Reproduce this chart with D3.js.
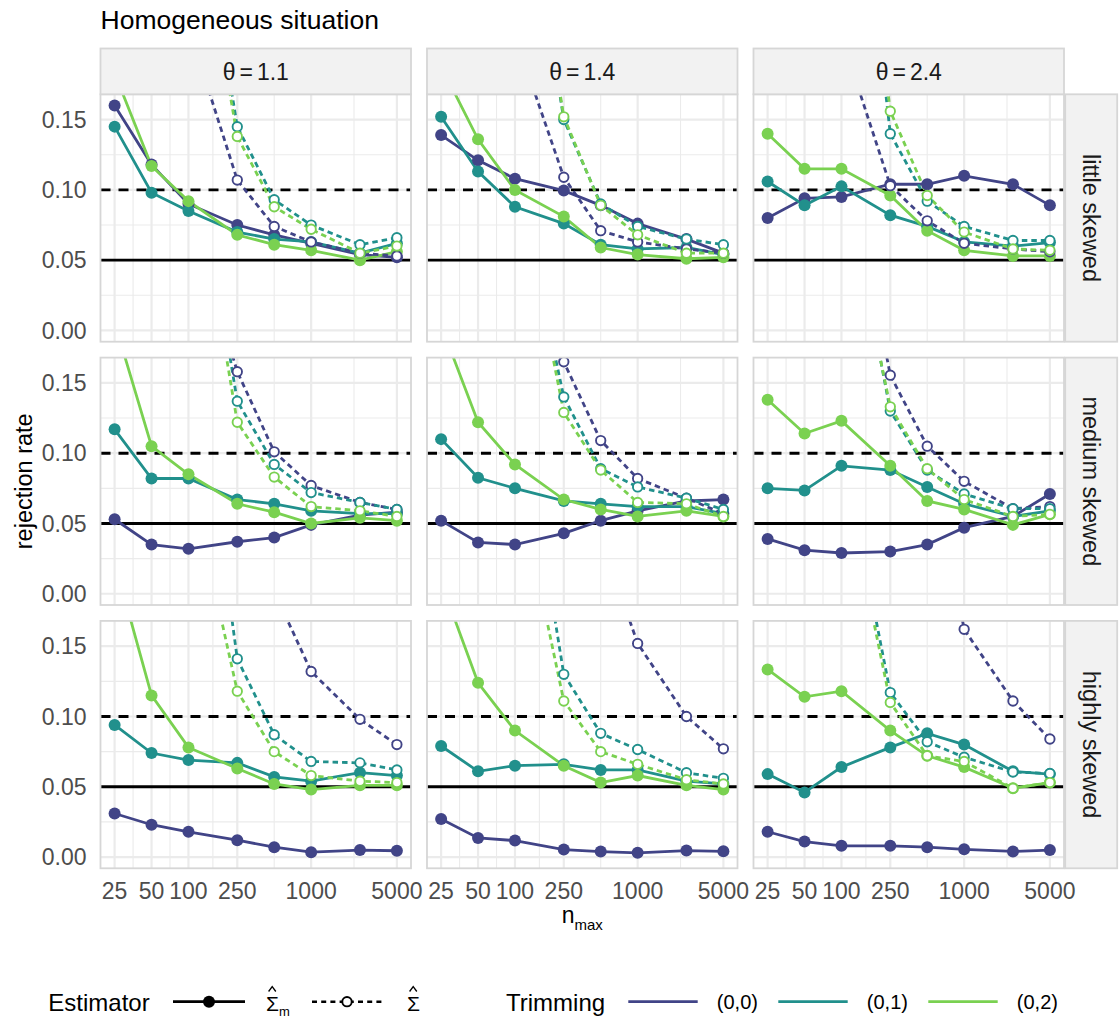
<!DOCTYPE html>
<html>
<head>
<meta charset="utf-8">
<script src="https://cdn.jsdelivr.net/npm/d3@7"></script>
<style>
  body { margin: 0; background: #fff; }
  svg { display: block; }
  text { font-family: "Liberation Sans", Arial, Helvetica, sans-serif; }
</style>
</head>
<body>
<svg id="chart" width="1119" height="1021"></svg>
<script>
// ---- data ---------------------------------------------------------------
const sampleSizes   = [25, 50, 100, 250, 500, 1000, 2500, 5000];
const xTickValues   = [25, 50, 100, 250, 1000, 5000];
const yTickValues   = [0, 0.05, 0.10, 0.15];
const thetaLabels   = ["1.1", "1.4", "2.4"];
const skewLabels    = ["little skewed", "medium skewed", "highly skewed"];
const trimmingLabels = ["(0,0)", "(0,1)", "(0,2)"];
const trimmingColors = ["#414487", "#21908C", "#7AD151"];
const nominalLevel  = 0.05;
const upperLevel    = 0.10;

// rejection rates, one row per trimming (0,0), (0,1), (0,2)
// estimator Sigma-hat_m (solid) and Sigma-hat (dashed)
const sigmaM_little_11 = [
  [0.160, 0.118, 0.090, 0.075, 0.068, 0.062, 0.054, 0.052],
  [0.145, 0.098, 0.085, 0.070, 0.065, 0.063, 0.055, 0.062],
  [0.183, 0.117, 0.092, 0.068, 0.061, 0.057, 0.050, 0.056]];
const sigma_little_11 = [
  [0.46, 0.31, 0.216, 0.107, 0.074, 0.063, 0.055, 0.053],
  [0.80, 0.55, 0.360, 0.145, 0.093, 0.075, 0.061, 0.066],
  [0.78, 0.52, 0.340, 0.138, 0.088, 0.072, 0.055, 0.060]];
const sigmaM_little_14 = [
  [0.139, 0.121, 0.108, 0.0995, 0.089, 0.076, 0.065, 0.055],
  [0.152, 0.113, 0.088, 0.076, 0.061, 0.058, 0.059, 0.054],
  [0.188, 0.136, 0.100, 0.081, 0.059, 0.054, 0.051, 0.052]];
const sigma_little_14 = [
  [0.45, 0.30, 0.210, 0.109, 0.071, 0.063, 0.058, 0.055],
  [0.85, 0.58, 0.370, 0.150, 0.090, 0.074, 0.065, 0.061],
  [0.85, 0.58, 0.370, 0.152, 0.089, 0.068, 0.055, 0.055]];
const sigmaM_little_24 = [
  [0.080, 0.094, 0.095, 0.104, 0.104, 0.110, 0.104, 0.089],
  [0.106, 0.089, 0.1025, 0.082, 0.074, 0.063, 0.060, 0.0625],
  [0.140, 0.115, 0.115, 0.096, 0.071, 0.057, 0.053, 0.053]];
const sigma_little_24 = [
  [0.45, 0.31, 0.209, 0.103, 0.078, 0.062, 0.058, 0.056],
  [1.00, 0.70, 0.448, 0.140, 0.092, 0.074, 0.064, 0.064],
  [1.00, 0.70, 0.440, 0.156, 0.096, 0.070, 0.058, 0.057]];

const sigmaM_medium_11 = [
  [0.053, 0.035, 0.032, 0.037, 0.040, 0.049, 0.056, 0.058],
  [0.117, 0.082, 0.082, 0.067, 0.064, 0.059, 0.057, 0.057],
  [0.193, 0.105, 0.085, 0.064, 0.058, 0.050, 0.054, 0.052]];
const sigma_medium_11 = [
  [0.60, 0.42, 0.273, 0.158, 0.101, 0.077, 0.065, 0.060],
  [0.75, 0.52, 0.347, 0.137, 0.092, 0.072, 0.065, 0.060],
  [0.70, 0.48, 0.330, 0.122, 0.083, 0.062, 0.059, 0.055]];
const sigmaM_medium_14 = [
  [0.052, 0.0365, 0.035, 0.043, 0.052, 0.059, 0.066, 0.067],
  [0.110, 0.0825, 0.075, 0.066, 0.064, 0.062, 0.062, 0.057],
  [0.191, 0.122, 0.092, 0.067, 0.060, 0.055, 0.059, 0.055]];
const sigma_medium_14 = [
  [0.70, 0.48, 0.300, 0.165, 0.109, 0.082, 0.068, 0.057],
  [0.70, 0.46, 0.302, 0.140, 0.089, 0.076, 0.068, 0.060],
  [0.70, 0.46, 0.305, 0.129, 0.088, 0.065, 0.064, 0.055]];
const sigmaM_medium_24 = [
  [0.039, 0.031, 0.029, 0.030, 0.035, 0.047, 0.055, 0.071],
  [0.075, 0.0735, 0.091, 0.088, 0.076, 0.064, 0.055, 0.059],
  [0.138, 0.114, 0.123, 0.091, 0.066, 0.060, 0.049, 0.0565]];
const sigma_medium_24 = [
  [0.75, 0.52, 0.334, 0.1555, 0.105, 0.080, 0.0605, 0.062],
  [0.70, 0.48, 0.312, 0.130, 0.088, 0.071, 0.0605, 0.0605],
  [0.70, 0.46, 0.300, 0.133, 0.089, 0.067, 0.055, 0.0565]];

const sigmaM_highly_11 = [
  [0.031, 0.023, 0.018, 0.012, 0.007, 0.0035, 0.005, 0.0045],
  [0.094, 0.074, 0.069, 0.067, 0.057, 0.054, 0.060, 0.058],
  [0.210, 0.115, 0.078, 0.063, 0.052, 0.048, 0.051, 0.051]];
const sigma_highly_11 = [
  [1.00, 0.75, 0.45, 0.30, 0.189, 0.132, 0.098, 0.080],
  [0.90, 0.62, 0.398, 0.141, 0.087, 0.068, 0.067, 0.062],
  [0.70, 0.45, 0.274, 0.118, 0.075, 0.058, 0.054, 0.053]];
const sigmaM_highly_14 = [
  [0.027, 0.0136, 0.0117, 0.0053, 0.0039, 0.003, 0.0046, 0.0041],
  [0.079, 0.061, 0.065, 0.066, 0.062, 0.062, 0.054, 0.052],
  [0.1955, 0.124, 0.090, 0.065, 0.053, 0.058, 0.051, 0.048]];
const sigma_highly_14 = [
  [1.00, 0.75, 0.50, 0.34, 0.227, 0.152, 0.100, 0.077],
  [0.80, 0.55, 0.346, 0.130, 0.088, 0.0765, 0.060, 0.056],
  [0.70, 0.45, 0.276, 0.111, 0.075, 0.066, 0.055, 0.052]];
const sigmaM_highly_24 = [
  [0.018, 0.011, 0.008, 0.008, 0.007, 0.0055, 0.004, 0.005],
  [0.059, 0.046, 0.064, 0.078, 0.088, 0.080, 0.061, 0.059],
  [0.1335, 0.114, 0.118, 0.090, 0.072, 0.064, 0.049, 0.053]];
const sigma_highly_24 = [
  [1.00, 0.80, 0.55, 0.40, 0.30, 0.162, 0.111, 0.084],
  [0.75, 0.50, 0.294, 0.117, 0.082, 0.071, 0.0605, 0.0595],
  [0.70, 0.48, 0.279, 0.110, 0.072, 0.068, 0.049, 0.053]];

// facet grid: rows = skewness, columns = theta
const panelData = [
  [[sigmaM_little_11, sigma_little_11], [sigmaM_little_14, sigma_little_14], [sigmaM_little_24, sigma_little_24]],
  [[sigmaM_medium_11, sigma_medium_11], [sigmaM_medium_14, sigma_medium_14], [sigmaM_medium_24, sigma_medium_24]],
  [[sigmaM_highly_11, sigma_highly_11], [sigmaM_highly_14, sigma_highly_14], [sigmaM_highly_24, sigma_highly_24]]
];

// ---- layout -------------------------------------------------------------
const svg = d3.select("#chart");
const gridLeft = 100.5, gridTop = 94.3;
const panelW = 310.5, panelH = 247.4;
const gapX = 16, gapY = 15.9;
const stripH = 45.8, stripW = 52;
const gridCol = "#EBEBEB", borderCol = "#D6D6D6", stripFill = "#F2F2F2";
const axisTextCol = "#4D4D4D";
const lineW = 2.8, dotR = 6, ringR = 4.7, ringW = 1.9;

const colX = c => gridLeft + c * (panelW + gapX);
const rowY = r => gridTop + r * (panelH + gapY);

const logSpan = Math.log10(d3.max(sampleSizes) / d3.min(sampleSizes));
const pad = Math.pow(10, 0.05 * logSpan);
const x = d3.scaleLog()
  .domain([d3.min(sampleSizes) / pad, d3.max(sampleSizes) * pad])
  .range([0, panelW]);
const y = d3.scaleLinear().domain([-0.008, 0.168]).range([panelH, 0]);

const xMinor = d3.pairs(xTickValues).map(([a, b]) => Math.sqrt(a * b));
const yMinor = d3.pairs(yTickValues).map(([a, b]) => (a + b) / 2);

const line = d3.line().x(d => x(d.n)).y(d => y(d.v));

// title
svg.append("text")
  .attr("x", gridLeft).attr("y", 28.5)
  .attr("font-size", 26.5).attr("fill", "#000")
  .text("Homogeneous situation");

const defs = svg.append("defs");
defs.append("clipPath").attr("id", "panel-clip")
  .append("rect").attr("width", panelW).attr("height", panelH);

panelData.forEach((rowPanels, r) => {
  rowPanels.forEach(([solidSeries, dashedSeries], c) => {
    const g = svg.append("g").attr("transform", `translate(${colX(c)},${rowY(r)})`);

    g.append("rect").attr("width", panelW).attr("height", panelH).attr("fill", "#fff");

    // grid
    g.selectAll(".ymin").data(yMinor).join("line")
      .attr("x1", 0).attr("x2", panelW).attr("y1", d => y(d)).attr("y2", d => y(d))
      .attr("stroke", gridCol).attr("stroke-width", 1.1);
    g.selectAll(".xmin").data(xMinor).join("line")
      .attr("y1", 0).attr("y2", panelH).attr("x1", d => x(d)).attr("x2", d => x(d))
      .attr("stroke", gridCol).attr("stroke-width", 1.1);
    g.selectAll(".ymaj").data(yTickValues).join("line")
      .attr("x1", 0).attr("x2", panelW).attr("y1", d => y(d)).attr("y2", d => y(d))
      .attr("stroke", gridCol).attr("stroke-width", 2.2);
    g.selectAll(".xmaj").data(xTickValues).join("line")
      .attr("y1", 0).attr("y2", panelH).attr("x1", d => x(d)).attr("x2", d => x(d))
      .attr("stroke", gridCol).attr("stroke-width", 2.2);

    // reference levels
    g.append("line").attr("x1", 0).attr("x2", panelW)
      .attr("y1", y(nominalLevel)).attr("y2", y(nominalLevel))
      .attr("stroke", "#000").attr("stroke-width", 2.9);
    g.append("line").attr("x1", 0).attr("x2", panelW)
      .attr("y1", y(upperLevel)).attr("y2", y(upperLevel))
      .attr("stroke", "#000").attr("stroke-width", 2.9)
      .attr("stroke-dasharray", "10,8");

    const data = g.append("g").attr("clip-path", "url(#panel-clip)");
    const toPts = vals => vals.map((v, i) => ({ n: sampleSizes[i], v }));

    // lines
    solidSeries.forEach((vals, t) => {
      data.append("path").attr("d", line(toPts(vals)))
        .attr("fill", "none").attr("stroke", trimmingColors[t]).attr("stroke-width", lineW);
    });
    dashedSeries.forEach((vals, t) => {
      data.append("path").attr("d", line(toPts(vals)))
        .attr("fill", "none").attr("stroke", trimmingColors[t]).attr("stroke-width", lineW)
        .attr("stroke-dasharray", "5.5,4");
    });
    // points
    solidSeries.forEach((vals, t) => {
      data.selectAll(null).data(toPts(vals)).join("circle")
        .attr("cx", d => x(d.n)).attr("cy", d => y(d.v)).attr("r", dotR)
        .attr("fill", trimmingColors[t]);
    });
    dashedSeries.forEach((vals, t) => {
      data.selectAll(null).data(toPts(vals)).join("circle")
        .attr("cx", d => x(d.n)).attr("cy", d => y(d.v)).attr("r", ringR)
        .attr("fill", "#fff").attr("stroke", trimmingColors[t]).attr("stroke-width", ringW);
    });

    // border
    g.append("rect").attr("width", panelW).attr("height", panelH)
      .attr("fill", "none").attr("stroke", borderCol).attr("stroke-width", 1.8);

    // y axis labels (first column)
    if (c === 0) {
      g.selectAll(".ylab").data(yTickValues).join("text")
        .attr("x", -14).attr("y", d => y(d) + 8.2)
        .attr("text-anchor", "end").attr("font-size", 23).attr("fill", axisTextCol)
        .text(d3.format(".2f"));
    }
    // x axis labels (bottom row)
    if (r === panelData.length - 1) {
      g.selectAll(".xlab").data(xTickValues).join("text")
        .attr("x", d => x(d)).attr("y", panelH + 31)
        .attr("text-anchor", "middle").attr("font-size", 23).attr("fill", axisTextCol)
        .text(d => d);
    }
  });
});

// top strips
thetaLabels.forEach((lab, c) => {
  const g = svg.append("g").attr("transform", `translate(${colX(c)},${gridTop - stripH})`);
  g.append("rect").attr("width", panelW).attr("height", stripH)
    .attr("fill", stripFill).attr("stroke", borderCol).attr("stroke-width", 1.8);
  const t = g.append("text").attr("x", panelW / 2).attr("y", stripH / 2 + 8.2)
    .attr("text-anchor", "middle").attr("font-size", 23).attr("fill", "#1A1A1A");
  t.append("tspan").text("θ");
  t.append("tspan").attr("dx", 4).text("=");
  t.append("tspan").attr("dx", 4).text(lab);
});

// right strips
skewLabels.forEach((lab, r) => {
  const sx = colX(2) + panelW + 1.2;
  const g = svg.append("g").attr("transform", `translate(${sx},${rowY(r)})`);
  g.append("rect").attr("width", stripW).attr("height", panelH)
    .attr("fill", stripFill).attr("stroke", borderCol).attr("stroke-width", 1.8);
  g.append("text")
    .attr("transform", `translate(${stripW / 2 - 8.5},${panelH / 2}) rotate(90)`)
    .attr("text-anchor", "middle").attr("font-size", 23.5).attr("fill", "#1A1A1A")
    .text(lab);
});

// axis titles
const gridMidY = gridTop + (3 * panelH + 2 * gapY) / 2;
svg.append("text")
  .attr("transform", `translate(32,${gridMidY}) rotate(-90)`)
  .attr("text-anchor", "middle").attr("font-size", 23.5).attr("fill", "#000")
  .text("rejection rate");

const gridMidX = gridLeft + (3 * panelW + 2 * gapX) / 2;
const xt = svg.append("text").attr("x", gridMidX).attr("y", 923)
  .attr("text-anchor", "middle").attr("font-size", 23).attr("fill", "#000");
xt.append("tspan").text("n");
xt.append("tspan").attr("font-size", 15).attr("dy", 6.5).text("max");

// legend
const legY = 1001.7, legBase = 1010.5;
const leg = svg.append("g");
leg.append("text").attr("x", 48.3).attr("y", legBase).attr("font-size", 24).text("Estimator");

// solid estimator key
leg.append("line").attr("x1", 173).attr("x2", 245).attr("y1", legY).attr("y2", legY)
  .attr("stroke", "#000").attr("stroke-width", 2.8);
leg.append("circle").attr("cx", 209).attr("cy", legY).attr("r", dotR).attr("fill", "#000");

// Sigma with a circumflex accent drawn above it, optional subscript
function sigmaHat(xPos, sub) {
  const t = leg.append("text").attr("x", xPos).attr("y", legBase).attr("font-size", 21);
  t.append("tspan").text("Σ");
  if (sub) t.append("tspan").attr("font-size", 13).attr("dy", 5).text(sub);
  const cx = xPos + 6.2, by = legBase - 19;
  leg.append("path")
    .attr("d", `M${cx - 3.6},${by} L${cx},${by - 5} L${cx + 3.6},${by}`)
    .attr("fill", "none").attr("stroke", "#000").attr("stroke-width", 1.3);
}
sigmaHat(266, "m");

// dashed estimator key
leg.append("line").attr("x1", 312).attr("x2", 382).attr("y1", legY).attr("y2", legY)
  .attr("stroke", "#000").attr("stroke-width", 2.6).attr("stroke-dasharray", "5,4.2");
leg.append("circle").attr("cx", 347).attr("cy", legY).attr("r", ringR)
  .attr("fill", "#fff").attr("stroke", "#000").attr("stroke-width", ringW);
sigmaHat(407);

leg.append("text").attr("x", 506).attr("y", legBase).attr("font-size", 24).text("Trimming");
const trimKeyX = [628.3, 778.3, 928.3];
trimmingLabels.forEach((lab, i) => {
  leg.append("line").attr("x1", trimKeyX[i]).attr("x2", trimKeyX[i] + 69.4)
    .attr("y1", legY).attr("y2", legY)
    .attr("stroke", trimmingColors[i]).attr("stroke-width", 2.8);
  leg.append("text").attr("x", trimKeyX[i] + 88.5).attr("y", legBase - 2)
    .attr("font-size", 20).text(lab);
});
</script>
</body>
</html>
